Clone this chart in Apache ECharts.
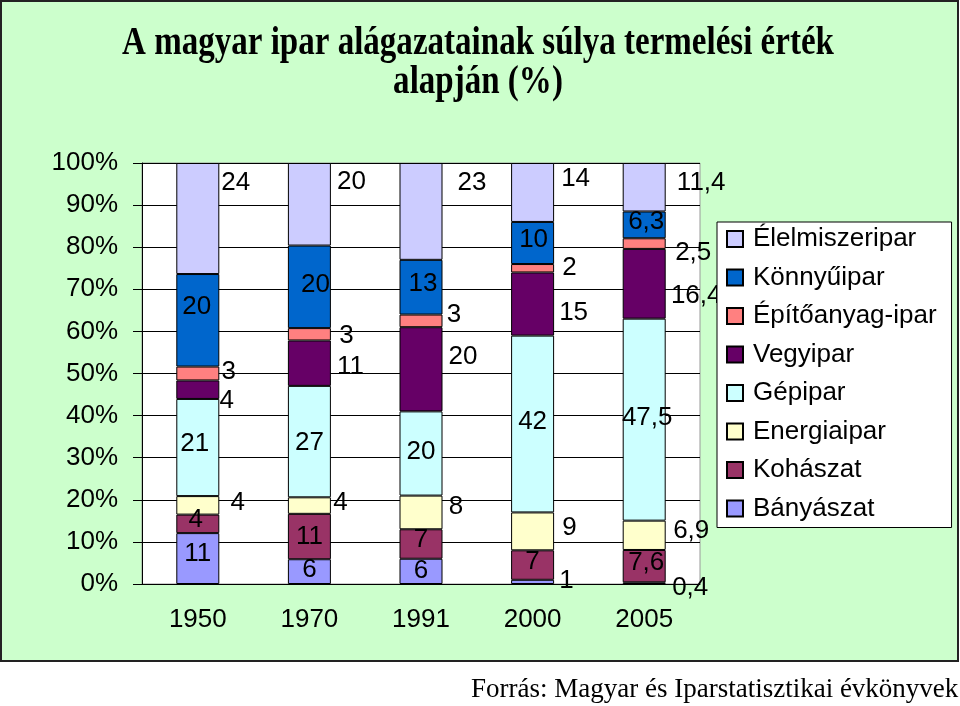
<!DOCTYPE html>
<html>
<head>
<meta charset="utf-8">
<title>A magyar ipar alágazatainak súlya</title>
<script src="https://cdn.jsdelivr.net/npm/echarts@6/dist/echarts.min.js"></script>
<style>
  html, body { margin: 0; padding: 0; background: #fff; }
  #chart { width: 960px; height: 706px; }
</style>
</head>
<body>
<div id="chart"></div>
<script>
// years on the x axis
var years = ['1950', '1970', '1991', '2000', '2005'];

// share of each branch (%)
var banyaszat      = [11, 6, 6, 1, 0.4];
var kohaszat       = [4, 11, 7, 7, 7.6];
var energiaipar    = [4, 4, 8, 9, 6.9];
var gepipar        = [21, 27, 20, 42, 47.5];
var vegyipar       = [4, 11, 20, 15, 16.4];
var epitoanyag     = [3, 3, 3, 2, 2.5];
var konnyuipar     = [20, 20, 13, 10, 6.3];
var elelmiszeripar = [24, 20, 23, 14, 11.4];

var branchNames = ['Bányászat', 'Kohászat', 'Energiaipar', 'Gépipar',
                   'Vegyipar', 'Építőanyag-ipar', 'Könnyűipar', 'Élelmiszeripar'];
var branchValues = [banyaszat, kohaszat, energiaipar, gepipar,
                    vegyipar, epitoanyag, konnyuipar, elelmiszeripar];

// styling
var colors = ['#9999ff', '#993366', '#ffffcc', '#ccffff',
              '#660066', '#ff8080', '#0066cc', '#ccccff'];
// where each value label sits, relative to the middle of its segment
var labelShift = [
  [[0, -5], [0, -2], [0, -1], [34, -1], [46, 5]],
  [[-2, -4], [0, 0], [0, -4], [0, -3], [2, -3]],
  [[40, -3], [31, -3], [35, -6], [37, -4], [47, -4]],
  [[-3, -4], [0, 1], [0, -2], [0, -2], [3, -2]],
  [[29, 11], [41, 4], [42, -12], [41, 9], [52, 12]],
  [[31, -2], [37, 2], [33, -6], [37, 0], [49, 9]],
  [[-1, -13], [6, -2], [2, -3], [1, -3], [2, -3]],
  [[38, -36], [42, -22], [51, -29], [43, -14], [57, -4]]
];

var sansFont = '"Liberation Sans", Arial, sans-serif';
var serifFont = '"Liberation Serif", "Times New Roman", serif';

// column totals, the bars are drawn as 100% stacks
var totals = years.map(function (y, i) {
  var s = 0;
  for (var k = 0; k < branchValues.length; k++) s += branchValues[k][i];
  return s;
});

var series = branchNames.map(function (name, k) {
  return {
    name: name,
    type: 'bar',
    stack: 'total',
    barWidth: 43,
    itemStyle: { color: colors[k], borderColor: '#000', borderWidth: 1 },
    label: {
      show: true,
      position: 'inside',
      color: '#000',
      fontSize: 26,
      fontFamily: sansFont,
      formatter: function (p) { return String(p.data.raw).replace('.', ','); }
    },
    data: branchValues[k].map(function (v, i) {
      return {
        value: v / totals[i] * 100,
        raw: v,
        label: { offset: labelShift[k][i] }
      };
    })
  };
});

// the title face in the original is a tall, narrow bold serif
var titleStyle = {
  fontSize: 39, fontWeight: 'bold', fontFamily: serifFont,
  fill: '#000', align: 'center', verticalAlign: 'middle'
};

var chart = echarts.init(document.getElementById('chart'));
var option = {
  backgroundColor: '#fff',
  animation: false,
  graphic: [
    {
      type: 'rect', z: -100,
      shape: { x: 1, y: 1, width: 957, height: 660 },
      style: { fill: '#ccffcc', stroke: '#222', lineWidth: 2 }
    },
    {
      type: 'text', x: 478, y: 44, scaleX: 0.847,
      style: Object.assign({ text: 'A magyar ipar alágazatainak súlya termelési érték' }, titleStyle)
    },
    {
      type: 'text', x: 478, y: 83, scaleX: 0.847,
      style: Object.assign({ text: 'alapján (%)' }, titleStyle)
    },
    {
      type: 'text', x: 471, y: 690,
      style: {
        text: 'Forrás: Magyar és Iparstatisztikai évkönyvek',
        fontSize: 27, fontFamily: serifFont,
        fill: '#000', align: 'left', verticalAlign: 'middle'
      }
    }
  ],
  legend: {
    orient: 'vertical',
    left: 717, top: 222,
    data: branchNames.slice().reverse(),
    icon: 'rect',
    itemWidth: 16, itemHeight: 16, itemGap: 12.5,
    padding: [4, 15, 6, 9],
    backgroundColor: '#fff', borderColor: '#000', borderWidth: 1,
    selectedMode: false,
    textStyle: { fontSize: 26, color: '#000', fontFamily: sansFont, lineHeight: 26, padding: [0, 0, 0, 5] }
  },
  grid: {
    left: 142, top: 163, width: 558, height: 421,
    show: true, backgroundColor: '#fff', borderColor: '#999', borderWidth: 1
  },
  xAxis: {
    type: 'category',
    data: years,
    axisLine: { lineStyle: { color: '#000', width: 1 } },
    axisTick: { length: 7, lineStyle: { color: '#000' } },
    axisLabel: { color: '#000', fontSize: 26, fontFamily: sansFont, margin: 23 }
  },
  yAxis: {
    type: 'value',
    min: 0, max: 100, interval: 10,
    axisLine: { show: true, lineStyle: { color: '#000', width: 1 } },
    axisTick: { show: true, length: 9, lineStyle: { color: '#000' } },
    axisLabel: { color: '#000', fontSize: 26, fontFamily: sansFont, margin: 24, formatter: '{value}%' },
    splitLine: { lineStyle: { color: '#000', width: 1 } }
  },
  series: series
};
chart.setOption(option);
</script>
</body>
</html>
